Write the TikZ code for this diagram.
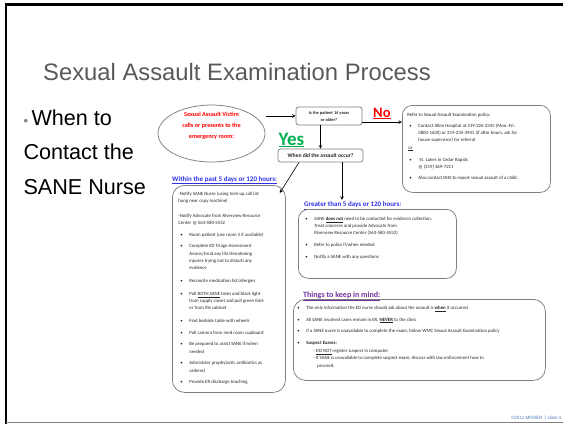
\documentclass[tikz,border=0pt]{standalone}
\usepackage{fontspec}
\setmainfont{Liberation Sans}
\newfontfamily\calibri{Carlito}
\usetikzlibrary{shapes.geometric}
\tikzset{>=stealth}

\definecolor{titlegray}{HTML}{595959}
\definecolor{boxgray}{HTML}{7F7F7F}
\definecolor{textgray}{HTML}{262626}
\definecolor{victimred}{HTML}{FF0000}
\definecolor{yesgreen}{HTML}{00B050}
\definecolor{linkblue}{HTML}{2E2EE6}
\definecolor{mindpurple}{HTML}{7030A0}
\definecolor{footblue}{HTML}{4F81BD}

\newcommand{\boxfont}{\calibri\fontsize{4.8}{7.2}\selectfont}
\newcommand{\bitem}[2][4.5pt]{\par\vspace{#1}\hangindent=11pt\hangafter=1\noindent\makebox[11pt][l]{\hspace{2pt}\textbullet}#2}

\tikzset{
  infobox/.style={draw=boxgray, line width=0.75pt, rounded corners=11pt, anchor=north west,
    inner xsep=5pt, inner ysep=5pt, font=\boxfont, text=textgray},
  askbox/.style={draw=boxgray, line width=0.75pt, rounded corners=2.5pt, inner sep=0pt,
    align=center, text=textgray},
  caption/.style={anchor=base west, inner sep=0pt, font=\calibri\bfseries},
  link/.style={->, line width=0.6pt},
}

\begin{document}
\begin{tikzpicture}[x=1pt, y=-1pt]
\useasboundingbox (0,0) rectangle (563,424);
% slide frame
\draw[line width=2.2pt] (6,424) -- (6,4.5) -- (563,4.5);
\draw[gray, line width=1.2pt] (6,422.5) -- (563,422.5);

% title and side text
\node[anchor=base west, inner sep=0pt, text=titlegray, font=\fontsize{23.8}{28}\selectfont] (title) at (43,80)
  {Sexual Assault Examination Process};
\node[anchor=base west, inner sep=0pt, align=left, font=\fontsize{21.6}{34.5}\selectfont] (side) at (23.3,194)
  {{\color{gray}\fontsize{13}{13}\selectfont\textbullet}\hspace{3.5pt}When to\\Contact the\\SANE Nurse};

% flow chart
\node[ellipse, draw=boxgray, line width=0.75pt, minimum width=107pt, minimum height=57pt, inner sep=0pt,
  text=victimred, font=\calibri\bfseries\fontsize{6.2}{11}\selectfont] (vict) at (211.5,133.5)
  {\raisebox{6.5pt}[0pt][0pt]{\begin{tabular}{@{}c@{}}Sexual Assault Victim\\calls or presents to the\\emergency room:\end{tabular}}};

\node[askbox, minimum width=66pt, minimum height=18pt, font=\calibri\bfseries\fontsize{4.4}{7}\selectfont] (age) at (329,116)
  {Is the patient 14 years\\or older?};
\node[askbox, minimum width=85pt, minimum height=13pt, font=\calibri\bfseries\fontsize{5.6}{7}\selectfont] (when) at (320.5,155.5)
  {When did the assault occur?};

\node[caption, text=victimred, font=\calibri\bfseries\fontsize{14.5}{16}\selectfont] (no) at (373,117) {\underline{No}};
\node[caption, text=yesgreen, font=\calibri\bfseries\fontsize{19}{20}\selectfont] (yes) at (278.5,145) {\underline{Yes}};

\node[infobox, rounded corners=10pt, inner ysep=6pt] (refer) at (402,105)
  {\parbox[t][75pt][t]{138pt}{\raggedright\strut Refer to Sexual Assault Examination policy:
  \bitem[3.8pt]{Contact Allen Hospital at 319-226-2345 (Mon.-Fri.\newline 0800-1630) or 319-235-3941 (if after hours, ask for\newline house supervisor) for referral}
  \par\noindent\hspace*{1pt}\underline{or}
  \bitem[5.5pt]{\ St. Lukes in Cedar Rapids\newline @ (319) 369-7211}
  \bitem[3.8pt]{Also contact DHS to report sexual assault of a child.}}};

\node[caption, text=linkblue, font=\calibri\bfseries\fontsize{7}{8}\selectfont] (within) at (172,181)
  {\underline{Within the past 5 days or 120 hours:}};
\node[infobox, rounded corners=12pt, inner xsep=6pt] (nearby) at (172,185)
  {\parbox[t][197pt][t]{101pt}{\raggedright\strut -Notify SANE Nurse (using tech-up call list\newline hung near copy machine)
  \par\vspace{7.5pt}\noindent -Notify Advocate from Riverview Resource\newline Center @ 563-580-5552
  \bitem{Room patient (use room 5 if available)}
  \bitem{Complete ED Triage Assessment\newline Assess/treat any life threatening\newline injuries trying not to disturb any\newline evidence}
  \bitem[6pt]{Reconcile medication list/allergies}
  \bitem[5.5pt]{Pull \underline{BOTH SANE} totes and black light\newline from supply closet and pull green fold-\newline er from file cabinet}
  \bitem[5.5pt]{Find bedside table with wheels}
  \bitem{Pull camera from med room cupboard}
  \bitem{Be prepared to assist SANE if/when\newline needed}
  \bitem{Administer prophylactic antibiotics as\newline ordered}
  \bitem{Provide ER discharge teaching}}};

\node[caption, text=linkblue, font=\calibri\bfseries\fontsize{7}{8}\selectfont] (greater) at (304,206.5)
  {\underline{Greater than 5 days or 120 hours:}};
\node[infobox, rounded corners=10pt, inner ysep=6pt] (later) at (298,209)
  {\parbox[t][57pt][t]{148pt}{\raggedright
  \bitem[0pt]{\strut SANE \underline{\textbf{does not}} need to be contacted for evidence collection.\newline Treat concerns and provide Advocate from\newline Riverview Resource Center (563-580-5552)}
  \bitem{Refer to policy if/when needed}
  \bitem{Notify a SANE with any questions}}};

\node[caption, text=mindpurple, font=\calibri\bfseries\fontsize{8}{9}\selectfont] (things) at (303,297)
  {\underline{Things to keep in mind:}};
\node[infobox, rounded corners=12pt, inner xsep=2pt] (mind) at (293,299)
  {\parbox[t][71pt][t]{248pt}{\raggedright
  \bitem[0pt]{\strut The only information the ED nurse should ask about the assault is \underline{\textbf{when}} it occurred}
  \bitem{All SANE involved cases remain in ER, \underline{\textbf{NEVER}} to the clinic}
  \bitem{If a SANE nurse is unavailable to complete the exam, follow WMC Sexual Assault Examination policy}
  \bitem{\textbf{Suspect Exams:}}
  \par\vspace{1pt}\noindent\hspace*{18pt}- \underline{DO NOT} register suspect in computer
  \par\hangindent=22pt\hangafter=1\noindent\hspace*{18pt}- If SANE is unavailable to complete suspect exam, discuss with law enforcement how to\newline proceed.}};

% connectors
\draw[link] ([xshift=1pt]vict.east |- age.west) -- (age.west);
\draw[link] ([yshift=-6pt]age.east) -- ([yshift=-6pt]age.east -| refer.west);
\draw[link] (age.south -| when.north) -- (when.north);
\draw[link] ([xshift=-21.5pt]when.south) -- ([shift={(-6pt,-8pt)}]nearby.north east);
\draw[link] ([xshift=21.5pt]when.south) -- ([xshift=21.5pt,yshift=1.5pt]when.south |- greater.north);

% footer
\node[anchor=base east, inner sep=0pt, text=footblue, font=\fontsize{4.6}{5}\selectfont] (foot) at (561.5,419)
  {\textcopyright2011 MFMER \,|\, slide-4};
\end{tikzpicture}
\end{document}
